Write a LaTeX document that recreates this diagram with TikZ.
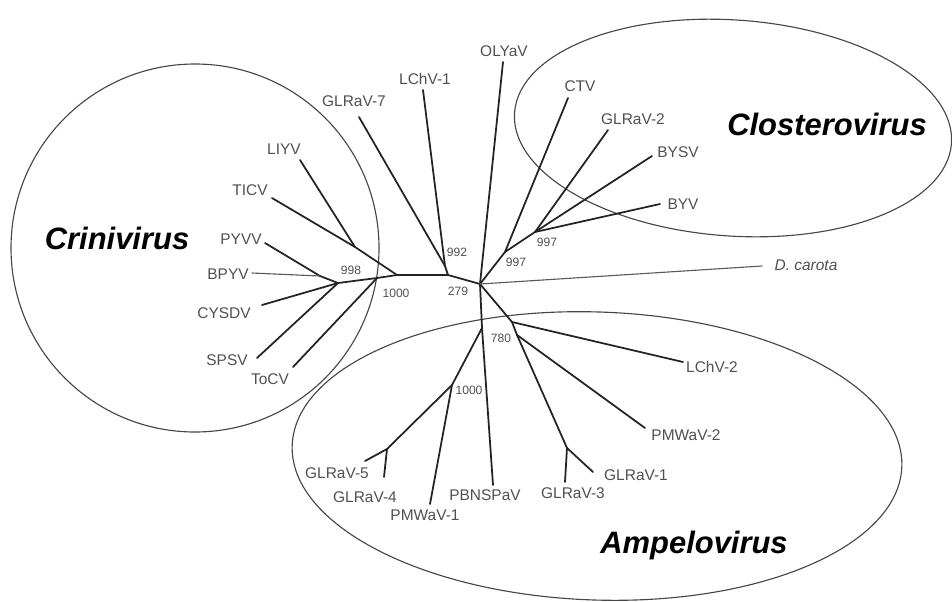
\documentclass[tikz,border=0pt]{standalone}
\usepackage{fontspec}
\setmainfont{Liberation Sans}
\usepackage{xcolor}
\definecolor{BranchGray}{RGB}{35,35,35}
\definecolor{RingGray}{RGB}{70,70,70}
\definecolor{LabelGray}{RGB}{80,80,80}
\usetikzlibrary{calc}
\tikzset{
  % tree branches
  branch/.style={line width=1.25pt, BranchGray, line cap=round},
  thinbranch/.style={line width=0.8pt, BranchGray!75, line cap=round},
  % genus outlines
  ring/.style={line width=0.8pt, RingGray},
  % texts
  leaf/.style={font=\fontsize{11}{13}\selectfont, text=LabelGray, inner sep=0pt},
  boot/.style={font=\fontsize{8.6}{10}\selectfont, text=LabelGray, inner sep=0pt},
  genus/.style={font=\fontsize{22}{24}\selectfont\bfseries\itshape, inner sep=0pt},
}

\begin{document}
\begin{tikzpicture}[x=0.025cm, y=-0.025cm]
  \useasboundingbox (0,0) rectangle (952,601);

  %% Genus outlines
  \draw[ring] (195,248) circle [radius=184];
  \draw[ring, rotate around={-4:(733,128)}] (733,128) ellipse [x radius=219, y radius=108];
  \draw[ring, rotate around={-2:(597,456)}] (597,456) ellipse [x radius=305, y radius=144];

  %% Inner nodes of the tree
  \coordinate (root) at (480,284);
  \coordinate (n1) at (448,275);
  \coordinate (n2) at (445,266);
  \coordinate (c1) at (397,275);
  \coordinate (c2) at (377,278);
  \coordinate (c3) at (338,283);
  \coordinate (c4) at (320,276);
  \coordinate (lt) at (355,247);
  \coordinate (u1) at (505,252);
  \coordinate (u2) at (535,232);
  \coordinate (a1) at (512,322);
  \coordinate (a2) at (482,328);
  \coordinate (a3) at (452,385);
  \coordinate (a4) at (387,449);
  \coordinate (a5) at (517,335);
  \coordinate (a6) at (567,448);

  %% Leaves: tip, then label position
  \foreach \nm/\tx/\ty/\lx/\ly/\txt in {
    liyv/300/160/284/149/LIYV,
    ticv/272/198/250/190/TICV,
    pyvv/265/243/241/239/PYVV,
    bpyv/252/273/228/274/BPYV,
    cysdv/262/305/224/313/CYSDV,
    spsv/257/358/227/360/SPSV,
    tocv/293/367/270/379/ToCV,
    glrav7/359/117/354/101/GLRaV-7,
    lchv1/423/90/425/79/LChV-1,
    olyav/503/62/504/51/OLYaV,
    ctv/568/98/580/86/CTV,
    glrav2/608/130/633/119/GLRaV-2,
    bysv/652/156/678/152/BYSV,
    byv/660/204/683/204/BYV,
    dcarota/762/266/806/265/{\textit{D. carota}},
    lchv2/683/362/712/367/LChV-2,
    pmwav2/645/428/686/435/PMWaV-2,
    glrav1/593/472/636/475/GLRaV-1,
    glrav3/565/482/573/493/GLRaV-3,
    pbnspav/493/485/485/495/PBNSPaV,
    pmwav1/430/504/425/515/PMWaV-1,
    glrav4/384/477/365/497/GLRaV-4,
    glrav5/365/461/337/473/GLRaV-5}{
    \coordinate (\nm) at (\tx,\ty);
    \node[leaf] (\nm-lbl) at (\lx,\ly) {\txt};
  }

  %% Branches
  \foreach \a/\b in {root/n1, n1/n2, n2/glrav7, n2/lchv1, n1/c1, c1/lt,
    lt/liyv, lt/ticv, c1/c2, c2/tocv, c2/c3, c3/c4, c4/pyvv, c3/cysdv,
    c3/spsv, root/olyav, root/u1, u1/ctv, u1/u2, u2/glrav2, u2/bysv,
    u2/byv, root/a1, root/a2, a1/lchv2, a1/a5, a5/pmwav2, a5/a6,
    a6/glrav1, a6/glrav3, a2/pbnspav, a2/a3, a3/pmwav1, a3/a4,
    a4/glrav5, a4/glrav4}{
    \draw[branch] (\a) -- (\b);
  }
  \draw[thinbranch] (c4) -- (bpyv);
  \draw[thinbranch] (root) -- (dcarota);

  %% Bootstrap values
  \foreach \nm/\x/\y/\val in {b998/351/270/998, b1000/396/293/1000,
    b992/457/252/992, b279/458/291/279, b997a/516/262/997,
    b997b/547/242/997, b780/501/338/780, b1000b/469/390/1000}{
    \node[boot] (\nm) at (\x,\y) {\val};
  }

  %% Genus names
  \node[genus] (crini) at (117,238) {Crinivirus};
  \node[genus] (clost) at (827,124) {Closterovirus};
  \node[genus] (ampelo) at (694,545) {Ampelovirus};
\end{tikzpicture}
\end{document}
